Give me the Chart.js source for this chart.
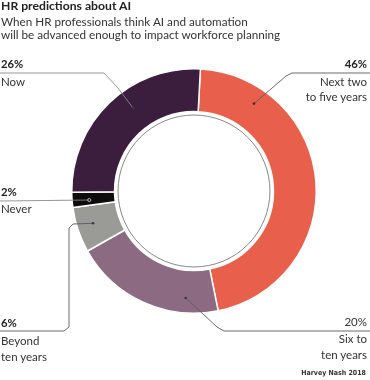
<!DOCTYPE html>
<html>
<head>
<meta charset="utf-8">
<script src="https://cdn.jsdelivr.net/npm/chart.js@4.4.1/dist/chart.umd.min.js"></script>
<style>
  html, body { margin: 0; padding: 0; background: #fff; }
  body { width: 370px; height: 380px; position: relative; overflow: hidden; font-family: Lato, 'Open Sans', sans-serif; color: #222; }
  #chart { position: absolute; left: 0; top: 0; }
  .t { position: absolute; white-space: nowrap; line-height: 1; }
  .title { left: 1px; top: 0px; font-size: 12.2px; font-weight: bold; }
  .sub { left: 1px; font-size: 11.7px; color: #333; }
  .lbl { font-size: 11.5px; color: #333; }
  .pct { font-size: 11.3px; font-weight: bold; color: #222; }
  .r { text-align: right; right: 3px; }
  .src { right: 4px; top: 370px; font-family: 'DejaVu Sans Condensed', 'DejaVu Sans', sans-serif; font-stretch: condensed; font-weight: bold; font-size: 7px; color: #333; }
</style>
</head>
<body>
<canvas id="chart" width="370" height="380"></canvas>

<div class="t title">HR predictions about AI</div>
<div class="t sub" style="top:16px">When HR professionals think AI and automation</div>
<div class="t sub" style="top:29px">will be advanced enough to impact workforce planning</div>

<div class="t pct" style="left:1px;top:58px">26%</div>
<div class="t lbl" style="left:1px;top:76px">Now</div>

<div class="t pct r" style="top:58px">46%</div>
<div class="t lbl r" style="top:76px">Next two</div>
<div class="t lbl r" style="top:91px">to five years</div>

<div class="t pct" style="left:1px;top:186px">2%</div>
<div class="t lbl" style="left:1px;top:203px">Never</div>

<div class="t pct" style="left:1px;top:317px">6%</div>
<div class="t lbl" style="left:1px;top:335px">Beyond</div>
<div class="t lbl" style="left:1px;top:351px">ten years</div>

<div class="t lbl r" style="top:316px">20%</div>
<div class="t lbl r" style="top:333px">Six to</div>
<div class="t lbl r" style="top:349px">ten years</div>

<div class="t src">Harvey Nash 2018</div>

<script>
'use strict';

const LABELS = ['Next two to five years', 'Six to ten years', 'Beyond ten years', 'Never', 'Now'];
const VALUES = [46, 20, 6, 2, 26];
const COLORS = ['#e8604b', '#8c6b82', '#9a9a96', '#0d0b0c', '#3b1d3d'];

// leader lines: where the dot sits inside each slice, then the elbow points out to the label
const LEADERS = [
  { frac: 0.19, depth: 0.62, path: [[286, 76], [292, 73], [370, 73]] },
  { frac: 0.22, depth: 0.65, path: [[217, 327], [224, 331], [370, 331]] },
  { frac: 0.54, depth: 0.62, path: [[73, 224], [69, 228], [69, 327], [64, 331], [0, 331]] },
  { frac: 0.40, depth: 0.6,  path: [[0, 201]], ring: true },
  { frac: 0.58, depth: 0.55, path: [[118, 88], [104, 73], [0, 73]] },
];

const leaderPlugin = {
  id: 'leaders',
  afterDatasetsDraw(chart) {
    const ctx = chart.ctx;
    const arcs = chart.getDatasetMeta(0).data;
    const first = arcs[0];

    // thin circle inside the hole
    ctx.save();
    ctx.beginPath();
    ctx.arc(first.x, first.y, first.innerRadius - 3.5, 0, Math.PI * 2);
    ctx.strokeStyle = '#7a7a7a';
    ctx.lineWidth = 0.9;
    ctx.stroke();

    arcs.forEach((arc, i) => {
      const L = LEADERS[i];
      const a = arc.startAngle + L.frac * (arc.endAngle - arc.startAngle);
      const r = arc.innerRadius + L.depth * (arc.outerRadius - arc.innerRadius);
      const x0 = arc.x + Math.cos(a) * r;
      const y0 = arc.y + Math.sin(a) * r;
      const dark = i === 3 || i === 4;

      ctx.beginPath();
      ctx.moveTo(x0, y0);
      L.path.forEach(([px, py]) => ctx.lineTo(px, py));
      ctx.strokeStyle = dark ? '#8a8a8a' : '#5a5a5a';
      ctx.lineWidth = 0.9;
      ctx.lineJoin = 'round';
      ctx.stroke();

      ctx.beginPath();
      ctx.arc(x0, y0, L.ring ? 1.6 : 1.3, 0, Math.PI * 2);
      if (L.ring) {
        ctx.strokeStyle = '#bbb';
        ctx.stroke();
      } else {
        ctx.fillStyle = i === 0 ? '#6a1d12' : '#3a3a3a';
        ctx.fill();
      }
    });
    ctx.restore();
  }
};

new Chart(document.getElementById('chart'), {
  type: 'doughnut',
  data: {
    labels: LABELS,
    datasets: [{
      data: VALUES,
      backgroundColor: COLORS,
      borderColor: '#ffffff',
      borderWidth: 1.5,
      hoverOffset: 0,
    }],
  },
  options: {
    responsive: false,
    animation: false,
    cutout: '65%',
    rotation: 3,
    layout: { padding: { left: 71, right: 53, top: 68, bottom: 66 } },
    plugins: {
      legend: { display: false },
      tooltip: { enabled: false },
      title: { display: false },
    },
  },
  plugins: [leaderPlugin],
});
</script>
</body>
</html>
